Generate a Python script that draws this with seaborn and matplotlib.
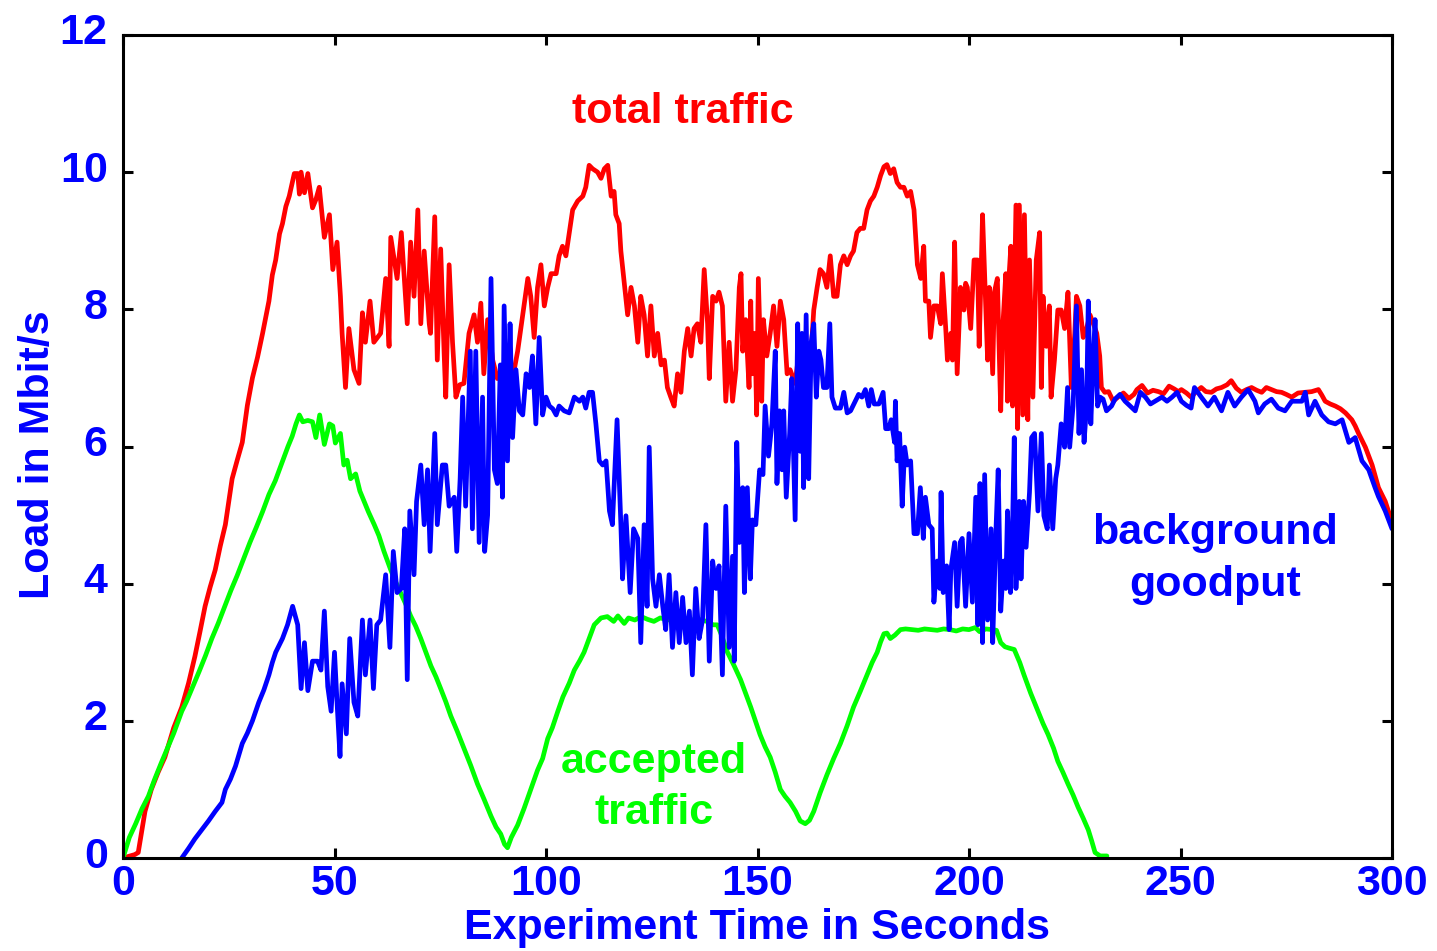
import numpy as np
import pandas as pd
import matplotlib
matplotlib.use("Agg")
import matplotlib.pyplot as plt
from matplotlib.transforms import ScaledTranslation
import seaborn as sns

# ---------------- data ----------------
red_t = [0, 2.8, 3.6, 5.2, 6.7, 8.3, 9.9, 12, 13.9, 15.5, 17, 18.2, 19.4, 20.6, 21.8, 23, 24.2, 25, 25.8, 27,
         28.2, 29.4, 30.6, 31.8, 33, 34.5, 35.3, 36.1, 37, 37.7, 38.5, 39.3, 40.5, 41.3, 41.7, 42.1, 42.9, 43.7,
         44.8, 45.6, 46.4, 47.6, 48.8, 49.6, 50.6, 51.4, 51.8, 52.6, 53.4, 54.6, 55.8, 56.6, 57.3, 58.4, 59.3,
         60.9, 62.1, 62.9, 63.3, 64.8, 65.8, 67.2, 68, 68.8, 69.7, 70.4, 71.2, 72.4, 72.7, 73.7, 74.3, 75.1, 75.9,
         76.3, 77.1, 77.9, 78.7, 79.6, 80.6, 81.8, 83, 83.8, 84.6, 85.3, 86.2, 87.4, 88.5, 90.1, 92.1, 93.3, 94.5,
         95.7, 96.4, 97.2, 98, 98.8, 99.6, 100.4, 101.2, 102.4, 103.1, 103.9, 104.7, 105.5, 106.3, 107.5, 108.7,
         109.4, 110.2, 111, 112.2, 113, 113.8, 114.6, 115.4, 116.1, 116.5, 117.3, 117.7, 118.5, 119.3, 120.1,
         120.9, 121.7, 122.4, 123.2, 124, 124.8, 125.6, 126.4, 127.2, 128, 128.7, 129.5, 130.3, 131.1, 131.9,
         132.7, 133.5, 134.3, 135, 135.8, 136.6, 137.4, 138.2, 138.6, 139.4, 140.2, 140.9, 141.7, 142.5, 143.3,
         144.1, 144.9, 145.7, 146.1, 146.5, 147.2, 148, 148.4, 148.7, 149.4, 149.8, 150.2, 151, 151.4, 152.2,
         153, 153.8, 154.6, 155.4, 156.2, 157, 157.7, 158.9, 160.1, 161.3, 162.5, 163.3, 164.1, 164.8, 165.6,
         166.4, 167.2, 168, 168.8, 169.6, 170.4, 171.2, 172, 172.7, 173.5, 174.3, 175.1, 175.9, 176.7, 177.5,
         178.3, 179.1, 179.9, 180.6, 181.4, 182.2, 183, 183.8, 184.6, 185.4, 186.2, 187, 187.8, 188.6, 189.3,
         189.7, 190.5, 190.9, 191.7, 192.5, 193.3, 193.7, 194.5, 194.9, 195.7, 196.1, 196.6, 197.2, 198, 198.8,
         199.2, 199.6, 200.4, 201.2, 202, 202.4, 202.8, 203.2, 204, 204.4, 204.8, 205.6, 206, 206.7, 207.5,
         207.9, 208.7, 209.1, 209.5, 209.9, 210.3, 211.1, 211.5, 211.9, 212.7, 213.1, 213.9, 214.3, 215.1,
         215.9, 216.7, 217.1, 217.5, 218.3, 219, 219.4, 220.2, 221, 221.8, 222.6, 223.4, 224.2, 225, 225.4,
         226.2, 227, 227.8, 228.6, 229.4, 230.2, 230.9, 231.3, 232.1, 233, 234.1, 235.2, 236.5, 237.8, 239,
         239.7, 240.9, 242.2, 243.5, 244.8, 246, 247.3, 248.5, 249.5, 250.2, 251.4, 252.5, 253.7, 254.9, 256,
         257.3, 258.5, 259.7, 261, 262, 263.2, 264.4, 265.6, 266.8, 268, 269.2, 270.3, 271.5, 272.7, 273.9,
         275, 276.3, 277.8, 279.4, 281, 282.6, 283.4, 284.2, 285.4, 286.6, 287.8, 289, 290.5, 291.3, 292.1,
         293.7, 295.3, 296.8, 298.4, 300]
red_v = [0, 0.05, 0.08, 0.68, 1.0, 1.25, 1.47, 1.9, 2.2, 2.55, 2.94, 3.3, 3.67, 3.95, 4.2, 4.55, 4.86, 5.2, 5.53, 5.8,
         6.06, 6.6, 7.0, 7.3, 7.65, 8.12, 8.5, 8.72, 9.1, 9.25, 9.5, 9.65, 9.98, 9.98, 9.68, 10.0, 9.7, 9.98,
         9.48, 9.6, 9.78, 9.05, 9.38, 8.58, 8.98, 8.19, 7.65, 6.86, 7.72, 7.12, 6.92, 7.95, 7.52, 8.12, 7.52,
         7.65, 8.45, 7.46, 9.05, 8.45, 9.12, 7.79, 8.98, 8.19, 9.45, 7.79, 8.85, 7.79, 7.65, 9.35, 7.26, 8.88, 7.39,
         6.72, 8.65, 7.52, 6.72, 6.9, 6.92, 7.65, 7.92, 7.52, 8.09, 7.06, 7.85, 7.26, 6.99, 7.19, 6.99, 7.39, 7.92,
         8.45, 8.19, 7.59, 8.32, 8.65, 8.05, 8.32, 8.52, 8.52, 8.78, 8.92, 8.78, 9.12, 9.45, 9.58, 9.65,
         9.78, 10.1, 10.05, 10.0, 9.91, 10.05, 10.1, 9.65, 9.72, 9.38, 9.25, 8.85, 8.38, 7.92, 8.32,
         8.05, 7.52, 8.19, 7.92, 7.32, 8.05, 7.32, 7.65, 7.19, 7.26, 6.86, 6.72, 6.59, 7.06, 6.79,
         7.39, 7.72, 7.32, 7.72, 7.79, 7.52, 8.58, 7.79, 6.99, 8.19, 8.12, 8.25, 8.05, 6.66, 7.52,
         6.66, 7.12, 8.32, 8.52, 7.39, 7.85, 6.86, 8.12, 7.06, 7.65, 6.46, 8.45, 6.66, 7.85, 7.32,
         7.65, 8.05, 7.46, 8.12, 7.85, 7.06, 7.12, 6.92, 7.52, 7.32, 7.19, 7.99, 8.32, 8.58, 8.52,
         8.32, 8.78, 8.19, 8.19, 8.65, 8.78, 8.65, 8.78, 8.85, 9.12, 9.18, 9.18, 9.45, 9.58, 9.65,
         9.78, 9.95, 10.08, 10.11, 9.98, 10.05, 9.85, 9.78, 9.78, 9.65, 9.72, 9.45, 8.65, 8.45, 8.92,
         8.12, 8.12, 7.59, 8.05, 8.05, 7.79, 8.52, 7.72, 7.26, 7.65, 7.26, 8.98, 7.06, 8.32, 7.99,
         8.38, 8.32, 7.72, 8.72, 8.72, 7.46, 8.38, 9.38, 7.99, 7.26, 8.32, 7.06, 8.25, 8.45, 6.52,
         7.65, 8.52, 6.66, 8.52, 8.92, 6.59, 9.52, 6.26, 9.52, 6.46, 9.38, 6.39, 8.72, 6.72,
         8.72, 9.12, 6.86, 8.19, 7.46, 8.05, 6.72, 7.26, 7.99, 7.99, 7.72, 8.25, 6.86, 7.65, 8.19,
         8.05, 7.59, 7.72, 7.92, 7.79, 7.65, 7.32, 6.86, 6.79, 6.8, 6.66, 6.72, 6.78, 6.7, 6.76,
         6.83, 6.89, 6.78, 6.82, 6.8, 6.77, 6.88, 6.84, 6.8, 6.83, 6.78, 6.72, 6.8, 6.86, 6.8,
         6.79, 6.84, 6.86, 6.9, 6.96, 6.85, 6.79, 6.83, 6.86, 6.82, 6.79, 6.86, 6.83, 6.8, 6.79,
         6.76, 6.72, 6.78, 6.79, 6.8, 6.83, 6.75, 6.66, 6.62, 6.59, 6.55, 6.49, 6.39, 6.3, 6.19,
         5.99, 5.73, 5.4, 5.2, 4.9]

green_t = [0, 1.5, 3, 4.5, 6, 7.5, 9, 10.5, 12, 13.9, 15, 16.5, 18, 19.5, 21, 22.5, 24, 25.5, 27, 28.5, 30,
           31.5, 33, 34.5, 36, 37.5, 39, 40, 40.9, 41.7, 42.5, 43.7, 44.8, 45.6, 46.5, 47.6, 48.8, 49.6, 50.2,
           51.4, 52.2, 53, 53.8, 55, 56, 57, 58, 59.4, 60.5, 61.7, 63.3, 64.5, 65.6, 67, 68, 69.2, 70.4, 71.6,
           72.8, 74, 75.1, 76.3, 77.5, 79, 80.6, 82.2, 83.8, 85.4, 87, 88.2, 89.3, 90.2, 90.9, 91.8, 93.3, 94.8,
           96.4, 98, 99.2, 100.4, 101.5, 102.8, 104, 105.5, 106.7, 108, 109, 110.2, 111.4, 113, 114.5, 116, 117,
           118.5, 119.5, 121, 122.5, 124, 125.5, 127, 128.5, 130, 132, 134, 136, 138, 139.5, 140.5, 141.5,
           142.9, 144.5, 146, 147.2, 148.4, 149.5, 150.6, 151.8, 153, 154.2, 155.4, 156.5, 157.7, 159, 160.1,
           161.3, 162.3, 163.3, 164.8, 166.4, 168, 169.6, 171.2, 172.7, 174.3, 175.9, 177.1, 178.3, 179.1,
           179.9, 180.6, 181.4, 182.5, 183.8, 185, 186.5, 188, 189.5, 191, 192.5, 194, 195.5, 197, 198.5, 200,
           201.5, 202.5, 204, 205.5, 206.5, 207.5, 208.5, 209.5, 210.7, 212, 213, 214.6, 216.3, 217.5, 218.7,
           220, 221, 222.2, 223.4, 224.6, 225.8, 227, 228.2, 229, 229.8, 231, 232.6]
green_v = [0.0, 0.3, 0.5, 0.72, 0.9, 1.15, 1.38, 1.6, 1.82, 2.14, 2.28, 2.5, 2.72, 2.95, 3.2, 3.42, 3.66, 3.9,
           4.12, 4.36, 4.6, 4.82, 5.05, 5.3, 5.5, 5.75, 6.0, 6.15, 6.33, 6.46, 6.36, 6.38, 6.36, 6.13, 6.46, 6.03,
           6.33, 6.3, 6.05, 6.19, 5.73, 5.8, 5.53, 5.6, 5.35, 5.2, 5.05, 4.86, 4.7, 4.47, 4.2, 4.02, 3.87, 3.68,
           3.53, 3.38, 3.2, 3.0, 2.8, 2.64, 2.47, 2.28, 2.07, 1.85, 1.6, 1.35, 1.08, 0.85, 0.61, 0.45, 0.35, 0.2,
           0.15, 0.3, 0.48, 0.72, 1.0, 1.28, 1.45, 1.74, 1.9, 2.14, 2.35, 2.55, 2.74, 2.88, 3.0, 3.2, 3.4, 3.5,
           3.52, 3.45, 3.53, 3.42, 3.5, 3.47, 3.52, 3.48, 3.45, 3.5, 3.48, 3.46, 3.5, 3.47, 3.48, 3.45, 3.4,
           3.4, 3.25, 3.0, 2.8, 2.6, 2.4, 2.2, 2.0, 1.8, 1.62, 1.47, 1.25, 1.0, 0.9, 0.81, 0.68, 0.54, 0.5, 0.55,
           0.68, 0.95, 1.21, 1.45, 1.67, 1.93, 2.2, 2.43, 2.67, 2.85, 3.0, 3.15, 3.27, 3.28, 3.2, 3.25, 3.33,
           3.34, 3.33, 3.32, 3.34, 3.33, 3.32, 3.34, 3.33, 3.31, 3.34, 3.33, 3.36, 3.3, 3.34, 3.33, 3.32, 3.14,
           3.08, 3.06, 3.04, 2.85, 2.67, 2.4, 2.14, 1.96, 1.8, 1.6, 1.41, 1.25, 1.08, 0.92, 0.74, 0.58, 0.41,
           0.25, 0.08, 0.03, 0.03]

blue_t = [13.9, 15.5, 17, 18.6, 20.2, 21.8, 23.4, 24.2, 25.4, 26.6, 28.2, 29.4, 30.6, 32.1, 33.3, 34.5, 35.3,
          36.1, 37.7, 38.9, 40.1, 41.3, 42.1, 42.9, 43.7, 44.8, 46, 46.8, 47.6, 48.4, 49.2, 50, 50.6, 51.3, 51.8,
          52.8, 53.6, 54.6, 55.5, 56.6, 57.3, 58.4, 59.2, 60, 60.9, 62.1, 63.1, 63.9, 64.8, 65.8, 66.6, 67.2,
          67.8, 68.8, 69.4, 70.4, 71.2, 72, 72.6, 73.7, 74.3, 75.5, 76.3, 77.1, 78.3, 78.9, 79.7, 80.3, 81, 82.1,
          82.6, 83.4, 84.2, 85, 85.5, 86.2, 87, 87.8, 88.5, 89.2, 89.7, 90.1, 90.9, 91.5, 92.1, 92.9, 93.7, 94.5,
          95.3, 96.1, 96.8, 97.6, 98.4, 99.2, 100, 100.8, 101.6, 102.4, 103.1, 104.3, 105.5, 106.7, 107.9, 108.7,
          109.4, 110.2, 111, 111.8, 112.6, 113.4, 114.2, 115, 115.7, 116.8, 117.7, 118.1, 118.9, 119.9, 120.7,
          121.7, 122.4, 123.2, 123.9, 124.4, 125.2, 126, 126.8, 127.6, 128.3, 129.1, 129.9, 130.7, 131.5, 132.3,
          133.1, 133.9, 134.6, 135.4, 136.2, 137, 137.8, 138.6, 139.4, 140.2, 140.9, 141.7, 142.5, 143.3, 144.1,
          144.5, 145.1, 145.7, 146.5, 146.9, 147.6, 148.3, 148.8, 149.6, 150.5, 151.3, 151.8, 152.6, 153.4,
          154.2, 154.6, 155.2, 155.8, 156.2, 156.8, 157.6, 158.1, 158.9, 159.5, 160.1, 160.5, 160.9, 161.5,
          162.1, 162.7, 163.3, 163.9, 164.5, 165, 165.6, 166.4, 167.1, 167.6, 168.4, 169.6, 170.4, 171.2, 172,
          173.1, 173.9, 174.7, 175.5, 176.3, 176.9, 177.6, 178.7, 179.7, 180.3, 181, 181.6, 182.4, 182.6, 183,
          183.6, 184.2, 184.8, 185.4, 186.2, 187, 187.8, 188.5, 189.2, 189.7, 190.5, 191.3, 191.7, 192.5, 193.1,
          193.4, 193.9, 194.7, 195.3, 195.7, 196.6, 197.2, 197.9, 198.4, 199.2, 200, 200.8, 201.6, 202.1, 202.6,
          203.2, 203.7, 204.4, 205.2, 205.6, 206.3, 206.9, 207.5, 208.2, 208.7, 209.1, 209.8, 210.3, 210.7,
          211.1, 211.9, 212.3, 212.9, 213.5, 214.3, 214.8, 215.5, 216.3, 217.1, 217.7, 218.5, 219, 219.8, 220.5,
          221, 221.8, 222.6, 223.3, 223.8, 224.6, 225.4, 226, 226.6, 227.2, 227.8, 228.2, 228.8, 229.4, 229.8,
          230.4, 231, 231.7, 232.5, 233.7, 234.5, 235.7, 236.9, 238.1, 239.3, 240.5, 241.7, 242.9, 244, 245.6,
          246.8, 248, 249.2, 250.2, 251.4, 252.5, 253.3, 254.9, 256.5, 258, 259.7, 261.2, 262.8, 264.4, 266,
          267.6, 268.4, 269.9, 271.5, 273.1, 274.7, 276.3, 278.7, 279.5, 280.3, 281.8, 283.4, 285, 286.6, 288.2,
          289.8, 291.3, 292.9, 294.5, 296, 296.8, 298.4, 300]
blue_v = [0, 0.14, 0.28, 0.41, 0.54, 0.68, 0.81, 1.0, 1.15, 1.34, 1.67, 1.82, 2.0, 2.27, 2.45, 2.67, 2.85, 3.0,
          3.2, 3.4, 3.67, 3.4, 2.47, 3.14, 2.44, 2.87, 2.87, 2.74, 3.6, 2.5, 2.14, 3.0, 2.27, 1.48, 2.54, 1.81,
          3.2, 2.27, 2.07, 3.47, 2.67, 3.47, 2.47, 3.4, 3.47, 4.13, 3.07, 4.47, 3.87, 3.93, 4.8, 2.6, 5.06, 4.13,
          5.2, 5.73, 4.86, 5.66, 4.47, 6.19, 4.86, 5.73, 5.73, 5.13, 5.26, 4.47, 5.53, 6.72, 5.13, 7.39, 4.8,
          7.39, 4.6, 6.72, 4.47, 5.0, 8.45, 5.66, 5.46, 7.19, 5.26, 8.05, 5.79, 7.79, 6.13, 7.12, 6.52, 6.46,
          7.06, 6.86, 7.32, 6.33, 7.59, 6.46, 6.72, 6.59, 6.55, 6.46, 6.59, 6.52, 6.49, 6.72, 6.66, 6.72, 6.56,
          6.79, 6.79, 6.33, 5.79, 5.73, 5.79, 5.06, 4.86, 6.39, 4.86, 4.07, 4.99, 3.87, 4.8, 4.66, 3.14, 4.86,
          3.67, 5.99, 4.07, 3.67, 4.13, 3.67, 3.33, 4.13, 3.07, 3.87, 3.14, 3.8, 3.14, 3.6, 2.67, 3.93, 3.2,
          3.47, 4.86, 2.87, 4.33, 3.93, 4.26, 2.67, 5.13, 3.07, 4.4, 2.87, 6.06, 4.6, 5.4, 3.87, 5.4, 4.07,
          4.93, 4.86, 5.66, 5.59, 6.59, 5.86, 6.33, 7.39, 5.46, 6.52, 5.66, 6.52, 5.26, 6.19, 6.99, 4.93, 7.79,
          5.93, 7.65, 5.4, 7.92, 5.53, 7.52, 7.79, 6.72, 7.39, 7.26, 6.86, 6.86, 7.79, 6.72, 6.56, 6.56, 6.79,
          6.49, 6.52, 6.66, 6.76, 6.72, 6.83, 6.59, 6.83, 6.62, 6.62, 6.79, 6.26, 6.26, 6.39, 6.06, 6.66, 5.79,
          6.19, 5.13, 5.99, 5.73, 5.79, 4.73, 4.73, 5.4, 4.66, 5.26, 4.86, 4.8, 3.73, 4.33, 3.93, 5.33, 3.87,
          4.26, 3.33, 4.2, 4.6, 3.67, 4.6, 4.66, 3.67, 4.73, 3.73, 5.26, 3.4, 5.46, 3.14, 5.59, 3.47, 4.8, 3.14,
          4.66, 5.66, 3.6, 4.33, 3.93, 5.06, 3.87, 4.86, 6.13, 3.93, 5.2, 4.07, 5.2, 4.53, 5.33, 6.13, 6.19,
          5.06, 6.19, 4.99, 4.8, 5.73, 4.8, 5.53, 5.73, 6.33, 5.99, 6.86, 5.99, 6.59, 8.05, 6.19, 7.12, 6.06,
          6.59, 8.12, 6.33, 7.32, 7.85, 6.59, 6.72, 6.69, 6.52, 6.59, 6.69, 6.76, 6.66, 6.59, 6.52, 6.79, 6.72,
          6.62, 6.66, 6.72, 6.66, 6.72, 6.79, 6.66, 6.6, 6.56, 6.86, 6.72, 6.59, 6.72, 6.52, 6.79, 6.59, 6.72,
          6.83, 6.66, 6.49, 6.62, 6.69, 6.56, 6.52, 6.66, 6.66, 6.79, 6.46, 6.66, 6.46, 6.36, 6.33, 6.39, 6.06,
          6.13, 5.79, 5.66, 5.4, 5.27, 5.06, 4.8]

x_ticks = [0, 50, 100, 150, 200, 250, 300]
y_ticks = [0, 2, 4, 6, 8, 10, 12]

RED, GREEN, BLUE = "#ff0000", "#00ff00", "#0000ff"

# ---------------- styling ----------------
sns.set_theme(style="white")
plt.rcParams["font.family"] = ["Liberation Sans", "DejaVu Sans"]
plt.rcParams["font.weight"] = "bold"

FS = 31

fig = plt.figure(figsize=(14.37, 9.51), dpi=100)
W, H = 1437, 951
ax = fig.add_axes([123 / W, (H - 858) / H, (1392 - 123) / W, (858 - 35) / H])

lw = 3.4
sns.lineplot(x=red_t, y=red_v, ax=ax, color=RED, linewidth=lw, estimator=None, sort=False)
sns.lineplot(x=green_t, y=green_v, ax=ax, color=GREEN, linewidth=lw, estimator=None, sort=False)
sns.lineplot(x=blue_t, y=blue_v, ax=ax, color=BLUE, linewidth=lw, estimator=None, sort=False)

ax.set_xlim(0, 300)
ax.set_ylim(0, 12)
ax.set_xticks(x_ticks)
ax.set_yticks(y_ticks)
ax.set_xticklabels([str(v) for v in x_ticks])
ax.set_yticklabels([str(v) for v in y_ticks])

for s in ax.spines.values():
    s.set_visible(True)
    s.set_color("black")
    s.set_linewidth(2.2)

ax.tick_params(axis="both", which="major", direction="in", length=7, width=2.2,
               top=True, right=True, bottom=True, left=True,
               labelsize=FS, labelcolor=BLUE, color="black")
ax.tick_params(axis="x", pad=4)
ax.tick_params(axis="y", pad=11)
for lab in ax.get_xticklabels() + ax.get_yticklabels():
    lab.set_fontweight("bold")
# y tick labels sit slightly above their ticks in the reference
shift = ScaledTranslation(0, 6 / 100, fig.dpi_scale_trans)
for lab in ax.get_yticklabels():
    lab.set_transform(lab.get_transform() + shift)

ax.set_xlabel("Experiment Time in Seconds", fontsize=FS, fontweight="bold", color=BLUE)
ax.set_ylabel("Load in Mbit/s", fontsize=FS, fontweight="bold", color=BLUE)
ax.xaxis.set_label_coords(0.5, -0.061)
ax.yaxis.set_label_coords(-0.051, 0.49)

ax.text(132.4, 10.88, "total traffic", color=RED, fontsize=FS, fontweight="bold",
        ha="center", va="center")
ax.text(125.5, 1.03, "accepted\ntraffic", color=GREEN, fontsize=FS, fontweight="bold",
        ha="center", va="center", linespacing=1.36)
ax.text(258.2, 4.36, "background\ngoodput", color=BLUE, fontsize=FS, fontweight="bold",
        ha="center", va="center", linespacing=1.36)

ax.grid(False)
fig.savefig("out.png", dpi=100, facecolor="white")
